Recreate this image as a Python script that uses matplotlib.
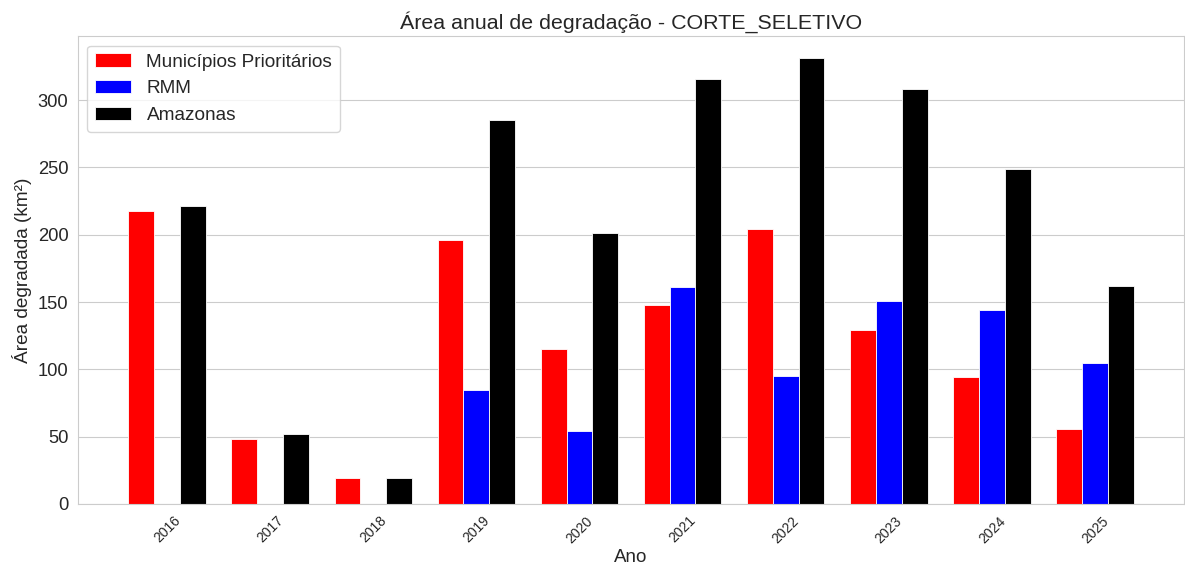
import numpy as np
import matplotlib
matplotlib.use("Agg")
import matplotlib.pyplot as plt
import seaborn as sns

anos = ["2016", "2017", "2018", "2019", "2020", "2021", "2022", "2023", "2024", "2025"]
municipios = [218, 48, 19.5, 196, 115, 148, 204, 129, 94, 56]
rmm = [0, 0, 0, 85, 54, 161, 95, 151, 144, 105]
amazonas = [221, 52, 19.5, 285, 201, 315.5, 331, 308, 249, 162]

sns.set_style("whitegrid")
plt.rcParams['font.family'] = ['Liberation Sans', 'DejaVu Sans']

fig, ax = plt.subplots(figsize=(11.85, 5.64), dpi=100)
fig.subplots_adjust(left=0.0658, right=0.9992, top=0.936, bottom=0.1064)

x = np.arange(len(anos))
w = 0.25
ax.bar(x - w, municipios, w, color='red', edgecolor='white', linewidth=0.6, label='Municípios Prioritários')
ax.bar(x, rmm, w, color='blue', edgecolor='white', linewidth=0.6, label='RMM')
ax.bar(x + w, amazonas, w, color='black', edgecolor='white', linewidth=0.6, label='Amazonas')

ax.set_xticks(x)
ax.set_xticklabels(anos, rotation=45, fontsize=10, color='.15')
ax.tick_params(axis='y', labelsize=13.2, labelcolor='.15')
ax.xaxis.grid(False)
ax.set_xlabel('Ano', fontsize=13.5, color='.15', labelpad=2)
ax.set_ylabel('Área degradada (km²)', fontsize=13.7, color='.15')
ax.set_title('Área anual de degradação - CORTE_SELETIVO', fontsize=15.4, color='.15', pad=5)
ax.legend(loc='upper left', fontsize=13.7, handlelength=1.9)

fig.savefig('out.png', dpi=100)
